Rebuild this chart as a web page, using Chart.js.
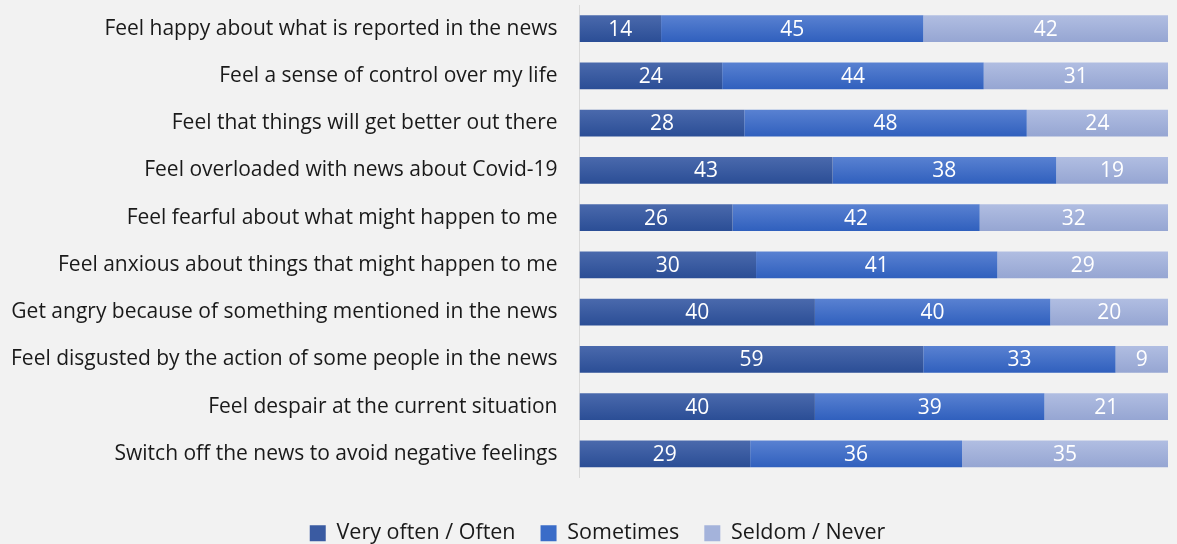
<!DOCTYPE html>
<html>
<head>
<meta charset="utf-8">
<script src="https://cdn.jsdelivr.net/npm/chart.js@4"></script>
<style>
  html, body { margin: 0; padding: 0; background: #f2f2f2; }
  #wrap { width: 1177px; height: 544px; }
</style>
</head>
<body>
<div id="wrap"><canvas id="chart" width="1177" height="544"></canvas></div>
<script>
const categories = [
  "Feel happy about what is reported in the news",
  "Feel a sense of control over my life",
  "Feel that things will get better out there",
  "Feel overloaded with news about Covid-19",
  "Feel fearful about what might happen to me",
  "Feel anxious about things that might happen to me",
  "Get angry because of something mentioned in the news",
  "Feel disgusted by the action of some people in the news",
  "Feel despair at the current situation",
  "Switch off the news to avoid negative feelings"
];
const veryOften = [14, 24, 28, 43, 26, 30, 40, 59, 40, 29];
const sometimes = [45, 44, 48, 38, 42, 41, 40, 33, 39, 36];
const seldom = [42, 31, 24, 19, 32, 29, 20, 9, 21, 35];

const totals = categories.map((c, i) => veryOften[i] + sometimes[i] + seldom[i]);
const share = arr => arr.map((v, i) => v / totals[i] * 100);

const FONT = '"Open Sans", "Noto Sans", sans-serif';

// vertical gradient per bar, like the office-style fill
function barGradient(top, bottom) {
  return function (ctx) {
    const chart = ctx.chart;
    const y = chart.scales.y;
    if (!y || ctx.type !== 'data') return bottom;
    const center = y.getPixelForValue(ctx.dataIndex);
    const half = 14;
    const g = chart.ctx.createLinearGradient(0, center - half, 0, center + half);
    g.addColorStop(0, top);
    g.addColorStop(1, bottom);
    return g;
  };
}

const valueLabels = {
  id: 'valueLabels',
  afterDatasetsDraw(chart) {
    const ctx = chart.ctx;
    ctx.save();
    ctx.fillStyle = '#ffffff';
    ctx.font = '21px ' + FONT;
    ctx.textAlign = 'center';
    ctx.textBaseline = 'middle';
    chart.data.datasets.forEach((ds, di) => {
      chart.getDatasetMeta(di).data.forEach((bar, i) => {
        const x = (bar.x + bar.base) / 2;
        ctx.fillText(ds.raw[i], x, bar.y + 1);
      });
    });
    ctx.restore();
  }
};

// nudge the legend a little to the right, as in the original
const legendShift = {
  id: 'legendShift',
  afterLayout(chart) {
    if (chart.legend) {
      chart.legend.left += 18;
      chart.legend.right += 18;
    }
  }
};

new Chart(document.getElementById('chart'), {
  type: 'bar',
  data: {
    labels: categories,
    datasets: [
      { label: 'Very often / Often', data: share(veryOften), raw: veryOften,
        backgroundColor: barGradient('#4b6aad', '#2a4d95') },
      { label: 'Sometimes', data: share(sometimes), raw: sometimes,
        backgroundColor: barGradient('#5a82d2', '#2f5fbd') },
      { label: 'Seldom / Never', data: share(seldom), raw: seldom,
        backgroundColor: barGradient('#b1bee2', '#95a5d2') }
    ]
  },
  options: {
    responsive: false,
    animation: false,
    indexAxis: 'y',
    layout: { padding: { left: -9, right: 9, top: 5, bottom: -10 } },
    datasets: { bar: { barPercentage: 0.57, categoryPercentage: 1 } },
    scales: {
      x: {
        stacked: true, min: 0, max: 100, display: false
      },
      y: {
        stacked: true,
        grid: { display: false, drawTicks: false },
        border: { display: true, color: '#d9d9d9', width: 1 },
        ticks: {
          color: '#1a1a1a',
          padding: 22,
          font: { family: FONT, size: 21 }
        },
        afterFit(scale) {
          scale.paddingTop = 0;
          scale.paddingBottom = 0;
        }
      }
    },
    plugins: {
      legend: {
        position: 'bottom',
        title: {
          display: true, text: '',
          font: { size: 1, lineHeight: 1 },
          padding: { top: 19, bottom: 0 }
        },
        labels: {
          color: '#1a1a1a',
          boxWidth: 16, boxHeight: 16,
          padding: 25,
          font: { family: FONT, size: 21.5 },
          generateLabels(chart) {
            const base = ['#3a5ba2', '#3a6cc8', '#a4b3db'];
            return chart.data.datasets.map((ds, i) => ({
              text: ds.label, fillStyle: base[i], strokeStyle: base[i],
              lineWidth: 0, datasetIndex: i, fontColor: '#1a1a1a'
            }));
          }
        }
      },
      tooltip: { enabled: false }
    }
  },
  plugins: [valueLabels, legendShift]
});
</script>
</body>
</html>
